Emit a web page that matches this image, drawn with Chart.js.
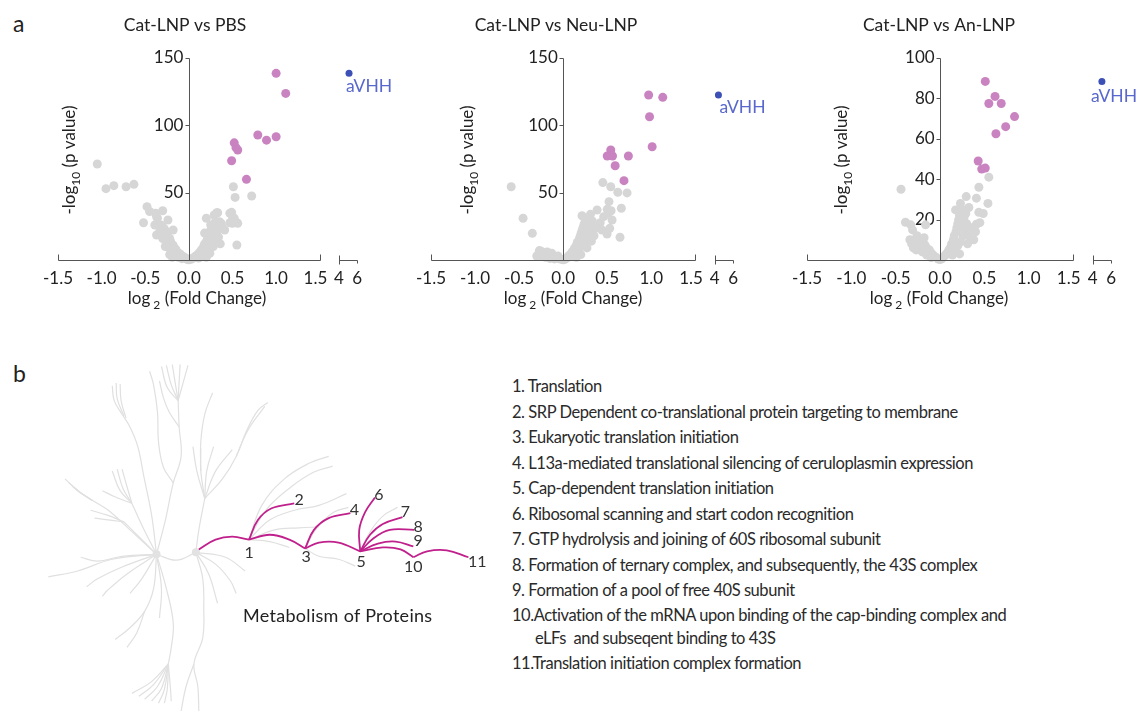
<!DOCTYPE html>
<html lang="en">
<head>
<meta charset="UTF-8">
<title>Volcano plots and Reactome tree</title>
<script src="https://cdn.jsdelivr.net/npm/chart.js@4.4.1/dist/chart.umd.min.js"></script>
<style>
  body { margin: 0; background: #fff; font-family: Lato, sans-serif; color: #222; }
  #fig { position: relative; width: 1138px; height: 715px; overflow: hidden; }
  canvas { position: absolute; top: 0; }
  .panel { position: absolute; font-size: 23px; line-height: 1; }
  #metab { position: absolute; left: 243px; top: 604px; font-size: 18px; letter-spacing: 0.3px; white-space: nowrap; }
  #pathways { position: absolute; left: 512px; top: 374px; font-size: 16.5px; letter-spacing: -0.45px;
    line-height: 25.5px; color: #2a2a2a; white-space: pre-wrap; }
  #pathways .wrap { padding-left: 23px; text-indent: -23px; line-height: 23.5px; }
</style>
</head>
<body>
<div id="fig">
  <div class="panel" style="left:13px;top:12px">a</div>
  <div class="panel" style="left:13px;top:362px">b</div>
  <canvas id="pbs" width="400" height="320" style="left:0px"></canvas>
  <canvas id="neu" width="390" height="320" style="left:380px"></canvas>
  <canvas id="an" width="378" height="320" style="left:760px"></canvas>
  <canvas id="tree" width="500" height="385" style="left:0px;top:330px"></canvas>
  <div id="metab">Metabolism of Proteins</div>
  <div id="pathways"></div>
</div>

<script>
// ---- volcano data: [log2 fold change, -log10 p] ----
const xTickValues = [-1.5, -1, -0.5, 0, 0.5, 1, 1.5, 4, 6];
const xTickLabels = ['-1.5', '-1.0', '-0.5', '0.0', '0.5', '1.0', '1.5  ', '4', '6'];

const pbsBlue = [[5.1, 138.6]];
const pbsPink = [[1.0, 138.6], [1.11, 123.7], [0.79, 92.8], [0.89, 89], [1.0, 91.5],
  [0.52, 87], [0.54, 83.4], [0.56, 81.7], [0.49, 73.7], [0.66, 59.9]];
const pbsGrey = [[-1.05, 71.3], [-0.95, 53], [-0.86, 55.2], [-0.72, 54.4], [-0.63, 56.2],
  [0.51, 54.4], [0.53, 46.5], [0.72, 47.5], [0.55, 11.1],
  [-0.48, 39.6], [-0.45, 36], [-0.3, 36.6], [-0.38, 34.7], [-0.52, 27.7], [-0.37, 32.1], [-0.36, 31],
  [-0.24, 29.7], [-0.39, 26], [-0.18, 22.3], [-0.37, 18.6], [-0.28, 18.6],
  [0.49, 35.4], [0.52, 31], [0.56, 27.2], [0.5, 27.2], [0.33, 35.1], [0.29, 33.4], [0.2, 31], [0.37, 27.2],
  [0.41, 22.3], [0.32, 35.1], [0.35, 28.4], [0.47, 34.7], [0.5, 32.2], [0.55, 27.7], [0.47, 27.7],
  [0.38, 24.7], [0.33, 22.3],
  [-0.02, 0.5], [-0.04, 1.5], [-0.06, 2.5], [-0.08, 3], [-0.1, 4.5], [-0.12, 5], [-0.14, 6.5], [-0.15, 8],
  [-0.17, 9], [-0.18, 11], [-0.2, 12], [-0.21, 14], [-0.22, 16], [-0.24, 17], [-0.25, 19], [-0.26, 21],
  [-0.28, 23], [-0.3, 24.5], [-0.32, 26], [-0.33, 22], [-0.29, 20], [-0.27, 15], [-0.25, 12], [-0.23, 9],
  [-0.2, 7], [-0.18, 5], [-0.15, 3], [-0.12, 2], [-0.08, 1], [-0.3, 16], [-0.32, 19], [-0.27, 10],
  [-0.22, 4], [-0.19, 2], [0, 0.2], [0.01, 0.8], [-0.01, 0.3],
  [0.02, 0.5], [0.04, 1], [0.06, 2], [0.08, 3], [0.1, 4], [0.12, 5.5], [0.14, 7], [0.15, 8], [0.17, 10],
  [0.18, 12], [0.2, 13], [0.21, 15], [0.22, 17], [0.23, 19], [0.24, 21], [0.26, 23], [0.27, 25], [0.28, 20],
  [0.3, 18], [0.26, 15], [0.25, 11], [0.22, 8], [0.2, 6], [0.17, 4], [0.14, 2.5], [0.11, 1.5], [0.3, 14],
  [0.32, 22], [0.34, 17], [0.28, 10], [0.24, 5], [0.2, 2], [0.36, 12], [0.18, 20], [0.3, 28], [0.25, 26]];

const neuBlue = [[4.4, 122.5]];
const neuPink = [[0.97, 122.5], [1.13, 120.8], [0.98, 106.4], [1.01, 84.1], [0.54, 81.7],
  [0.5, 77.2], [0.56, 77.2], [0.74, 77.2], [0.59, 70], [0.69, 58.9]];
const neuGrey = [[-0.59, 54.4], [-0.455, 31], [-0.35, 19.8], [0.45, 57.5], [0.54, 54.4], [0.62, 50.3],
  [0.725, 49.8], [0.52, 43.3], [0.66, 38.4], [0.5, 37.6], [0.544, 36.6], [0.385, 37.1], [0.31, 33.9],
  [0.214, 32.9], [0.46, 32.2], [0.555, 29.7], [0.42, 27.7], [0.365, 23.5], [0.44, 22.3], [0.528, 23.5],
  [0.498, 19.3], [0.645, 16.9], [0.51, 34.7],
  [-0.02, 0.5], [-0.05, 1], [-0.08, 1.5], [-0.1, 2], [-0.12, 2.5], [-0.15, 3], [-0.17, 4], [-0.2, 4.5],
  [-0.22, 5.5], [-0.25, 6.5], [-0.27, 7], [-0.24, 3], [-0.2, 2], [-0.15, 1.2], [-0.1, 0.8], [-0.28, 4.5],
  [-0.3, 3], [-0.18, 6], [-0.13, 5], [-0.06, 3], [0, 0.2],
  [0.02, 0.5], [0.04, 1.5], [0.06, 3], [0.08, 4], [0.1, 6], [0.12, 7.5], [0.13, 9], [0.15, 11], [0.16, 13],
  [0.18, 15], [0.19, 17], [0.2, 19], [0.21, 21], [0.22, 23], [0.23, 25], [0.24, 27], [0.25, 30], [0.22, 14],
  [0.2, 10], [0.17, 7], [0.14, 5], [0.11, 2.5], [0.25, 20], [0.27, 17], [0.28, 24], [0.24, 12], [0.3, 20],
  [0.3, 26], [0.32, 14], [0.27, 9], [0.2, 4], [0.15, 2], [0.35, 18], [0.29, 31], [0.33, 29]];

const anBlue = [[5.0, 88.4]];
const anPink = [[0.51, 88.4], [0.62, 81], [0.55, 77.5], [0.69, 77.5], [0.84, 71], [0.74, 66],
  [0.63, 62.5], [0.43, 49], [0.47, 45], [0.51, 45.5]];
const anGrey = [[-0.44, 35], [-0.39, 18.7], [-0.33, 17.4], [-0.163, 17.4], [-0.31, 14.9], [-0.28, 9.9],
  [-0.22, 6.3], [-0.255, 11.6], [0.438, 36], [0.55, 41], [0.295, 31.4], [0.23, 28], [0.41, 30.6],
  [0.175, 24.8], [0.325, 26], [0.437, 23.6], [0.54, 28], [0.487, 23], [0.449, 18.5], [0.41, 17.7],
  [-0.02, 0.5], [-0.05, 1.5], [-0.08, 2.5], [-0.1, 3.5], [-0.12, 5], [-0.15, 6], [-0.17, 7.5], [-0.2, 8.5],
  [-0.23, 10], [-0.25, 7], [-0.27, 5], [-0.3, 6], [-0.32, 8], [-0.2, 4], [-0.15, 2.5], [-0.1, 1.2],
  [-0.26, 12], [-0.34, 10], [-0.18, 11], [0, 0.2],
  [0.02, 0.6], [0.04, 1.5], [0.06, 2.5], [0.08, 3.5], [0.1, 5], [0.12, 6.5], [0.13, 8], [0.15, 10],
  [0.16, 12], [0.18, 14], [0.19, 16], [0.2, 18], [0.21, 20], [0.22, 22], [0.24, 19], [0.25, 16], [0.27, 21],
  [0.26, 12], [0.23, 9], [0.2, 7], [0.17, 4], [0.14, 2.5], [0.28, 14], [0.3, 18], [0.32, 12], [0.29, 23],
  [0.25, 25], [0.35, 16], [0.31, 8], [0.22, 3], [0.38, 10], [0.4, 14]];

// ---- panel b: pathway tree (page pixel space) ----
const treeGrey = [
  [[155,555],[175,561],[195,553]],
  [[155,555],[164,520],[172,482],[180,455],[178,425],[177,398]],
  [[177,398],[166,385],[160,363]],
  [[177,398],[170,382],[165,362]],
  [[177,398],[174,380],[171,361]],
  [[177,398],[178,378],[179,361]],
  [[177,398],[182,380],[187,362]],
  [[172,482],[162,466],[157,440],[156,410],[152,382],[148,368]],
  [[178,425],[168,410],[162,395],[158,378]],
  [[155,555],[150,515],[142,475],[136,445],[128,425],[120,412]],
  [[120,412],[112,398],[110,383]],
  [[122,414],[115,396],[114,380]],
  [[124,416],[119,398],[118,381]],
  [[155,555],[128,530],[106,510],[90,500]],
  [[90,500],[75,490],[62,478]],
  [[90,500],[78,492],[66,482]],
  [[90,500],[80,494],[70,486]],
  [[155,555],[140,525],[130,503]],
  [[130,503],[118,490],[110,470]],
  [[130,503],[121,488],[115,468]],
  [[130,503],[125,486],[120,468]],
  [[130,503],[112,496],[100,490]],
  [[155,555],[135,535],[122,522]],
  [[122,522],[105,515],[88,510]],
  [[122,522],[108,520],[92,518]],
  [[155,555],[110,560],[75,572],[45,578]],
  [[155,555],[120,557],[95,562],[78,558]],
  [[155,555],[120,568],[95,580],[84,588]],
  [[155,555],[125,575],[105,592],[100,598]],
  [[155,555],[140,580],[128,595]],
  [[155,555],[165,590],[172,625],[170,650],[167,667]],
  [[167,667],[150,685],[130,697]],
  [[167,667],[152,688],[137,700]],
  [[167,667],[156,690],[143,703]],
  [[167,667],[160,692],[150,705]],
  [[167,667],[163,693],[157,707]],
  [[167,667],[166,692],[163,707]],
  [[167,667],[169,690],[170,705]],
  [[155,555],[152,590],[143,613],[128,630],[113,642]],
  [[143,613],[135,635],[125,650]],
  [[155,555],[160,590],[158,620]],
  [[195,553],[202,580],[203,610],[202,640],[193,667],[197,690],[198,715]],
  [[193,667],[185,690],[180,715]],
  [[195,553],[215,565],[230,582],[236,595]],
  [[195,553],[225,558],[245,572]],
  [[195,553],[208,575],[217,605]],
  [[195,553],[198,530],[204,498]],
  [[204,498],[196,470],[192,445]],
  [[204,498],[200,470],[200,447]],
  [[204,498],[206,470],[213,445]],
  [[204,498],[215,470],[232,448]],
  [[204,498],[222,478],[236,455],[246,430],[258,408],[268,400]],
  [[236,455],[248,428],[265,404]],
  [[200,470],[200,440],[204,412],[212,390]],
  [[249,540],[262,505],[285,478],[310,462],[330,455]],
  [[249,540],[266,510],[292,486],[315,471],[334,465]],
  [[249,540],[270,520],[295,510],[320,505],[348,493]],
  [[249,540],[275,530],[300,528],[320,527]],
  [[249,540],[270,542],[290,548]],
  [[306,549],[318,528],[335,512],[350,507]],
  [[306,549],[320,557],[340,560],[357,567]],
  [[362,552],[372,532],[385,516],[400,507]]
];
const treeHighlight = [
  [[198,550],[215,540],[232,537],[249,540]],
  [[249,540],[258,520],[272,508],[295,503]],
  [[249,540],[270,535],[290,540],[306,549]],
  [[306,549],[315,530],[330,518],[352,513]],
  [[306,549],[320,543],[340,543],[362,552]],
  [[362,552],[361,530],[367,512],[377,497]],
  [[362,552],[372,535],[385,524],[405,517]],
  [[362,552],[375,539],[392,530],[417,530]],
  [[362,552],[380,544],[398,542],[416,547]],
  [[362,552],[385,548],[403,550],[416,558]],
  [[416,558],[430,552],[450,551],[472,558]]
];
const treeHubs = [[155,555],[195,553]];
const treeLabels = [['1',249,553],['2',300,499],['3',307,558],['4',356,510],['5',363,563],['6',381,494],
  ['7',408,512],['8',421,527],['9',421,541],['10',416,568],['11',481,563]];

const pathwayNames = [
  'Translation',
  'SRP Dependent co-translational protein targeting to membrane',
  'Eukaryotic translation initiation',
  'L13a-mediated translational silencing of ceruloplasmin expression',
  'Cap-dependent translation initiation',
  'Ribosomal scanning and start codon recognition',
  'GTP hydrolysis and joining of 60S ribosomal subunit',
  'Formation of ternary complex, and subsequently, the 43S complex',
  'Formation of a pool of free 40S subunit',
  'Activation of the mRNA upon binding of the cap-binding complex and\neLFs  and subseqent binding to 43S',
  'Translation initiation complex formation'
];

// ---- helpers ----
const FONT = 'Lato, sans-serif';
const GREY = '#d6d6d6', PINK = '#c983c0', BLUE = '#3c50b6', LABEL_BLUE = '#5868cc';
const BREAK_GAP = 0.22, BREAK_SCALE = 0.105, AXIS_MAX = 1.95;
function toAxis(v) { return v <= 1.5 ? v : 1.5 + BREAK_GAP + (v - 4) * BREAK_SCALE; }
const pts = arr => arr.map(([x, y]) => ({ x: toAxis(x), y: y }));

function drawParts(ctx, parts, cx, cy) {
  // parts: [text, isSub]
  const main = '17px ' + FONT, sub = '12px ' + FONT;
  let total = 0;
  parts.forEach(p => { ctx.font = p[1] ? sub : main; total += ctx.measureText(p[0]).width; });
  let x = cx - total / 2;
  ctx.textAlign = 'left';
  ctx.textBaseline = 'middle';
  parts.forEach(p => {
    ctx.font = p[1] ? sub : main;
    ctx.fillText(p[0], x, p[1] ? cy + 6 : cy);
    x += ctx.measureText(p[0]).width;
  });
}

const volcanoDecor = {
  id: 'volcanoDecor',
  afterDraw(chart, args, o) {
    const ctx = chart.ctx, xs = chart.scales.x, ys = chart.scales.y;
    const r = v => Math.round(v) + 0.5;
    const y0 = r(ys.getPixelForValue(0)), x0 = r(xs.getPixelForValue(0));
    const xa = r(xs.getPixelForValue(-1.5)), xb = r(xs.getPixelForValue(1.5));
    const xc = r(xs.getPixelForValue(toAxis(4))), xd = r(xs.getPixelForValue(toAxis(6)));
    ctx.save();
    ctx.strokeStyle = '#555';
    ctx.lineWidth = 1;
    ctx.beginPath();
    ctx.moveTo(xa, y0 - 6); ctx.lineTo(xa, y0); ctx.lineTo(xb, y0); ctx.lineTo(xb, y0 - 6);
    ctx.moveTo(xc, y0 - 5); ctx.lineTo(xc, y0 + 4);
    ctx.moveTo(xc, y0); ctx.lineTo(xd, y0); ctx.lineTo(xd, y0 + 3);
    ctx.moveTo(x0, y0); ctx.lineTo(x0, r(ys.top));
    ys.ticks.forEach(t => {
      if (t.value) { const p = r(ys.getPixelForValue(t.value)); ctx.moveTo(x0 - 4, p); ctx.lineTo(x0, p); }
    });
    ctx.stroke();

    ctx.fillStyle = '#222';
    ctx.font = '17.5px ' + FONT;
    ctx.textAlign = 'center';
    ctx.textBaseline = 'middle';
    ctx.fillText(o.title, o.titleX, 25);

    drawParts(ctx, [['log', 0], [' 2', 1], [' (Fold Change)', 0]], o.xTitleX, 299);

    ctx.save();
    ctx.translate(o.yTitleX, 160);
    ctx.rotate(-Math.PI / 2);
    drawParts(ctx, [['-log', 0], ['10', 1], [' (p value)', 0]], 0, 0);
    ctx.restore();

    const blue = chart.getDatasetMeta(0).data[0];
    ctx.fillStyle = LABEL_BLUE;
    ctx.font = '17.5px ' + FONT;
    ctx.textAlign = 'left';
    ctx.textBaseline = 'middle';
    ctx.fillText('aVHH', blue.x + o.labelDx, blue.y + o.labelDy);
    ctx.restore();
  }
};

function volcano(id, blue, pink, grey, yMax, yStep, lay) {
  return new Chart(document.getElementById(id), {
    type: 'scatter',
    data: {
      datasets: [
        { data: pts(blue), backgroundColor: BLUE, pointRadius: 3.5, borderWidth: 0, clip: false },
        { data: pts(pink), backgroundColor: PINK, pointRadius: 4.5, borderWidth: 0, clip: false },
        { data: pts(grey), backgroundColor: GREY, pointRadius: 4.5, borderWidth: 0, clip: false }
      ]
    },
    options: {
      responsive: false,
      animation: false,
      events: [],
      layout: { padding: { left: lay.left, top: 58, right: lay.right, bottom: 20 } },
      plugins: {
        legend: { display: false },
        tooltip: { enabled: false },
        volcanoDecor: lay
      },
      scales: {
        x: {
          type: 'linear', min: -1.5, max: AXIS_MAX,
          afterBuildTicks: s => { s.ticks = xTickValues.map(v => ({ value: toAxis(v) })); },
          afterFit: s => { s.height = 40; s.paddingLeft = 0; s.paddingRight = 0; },
          grid: { display: false, drawTicks: false },
          border: { display: false },
          ticks: {
            autoSkip: false, maxRotation: 0, padding: 8, color: '#222',
            font: { family: FONT, size: 17 },
            callback: (v, i) => xTickLabels[i]
          }
        },
        y: {
          type: 'linear', position: { x: 0 }, min: 0, max: yMax,
          grid: { display: false, drawTicks: false },
          border: { display: false },
          ticks: {
            stepSize: yStep, color: '#222',
            font: { family: FONT, size: 17 },
            callback: v => v === 0 ? '' : v + ' \u200a'
          }
        }
      }
    },
    plugins: [volcanoDecor]
  });
}

volcano('pbs', pbsBlue, pbsPink, pbsGrey, 150, 50,
  { left: 58, right: 400 - 58 - 301, title: 'Cat-LNP vs PBS', titleX: 185, xTitleX: 197, yTitleX: 70,
    labelDx: -3, labelDy: 13 });
volcano('neu', neuBlue, neuPink, neuGrey, 150, 50,
  { left: 51, right: 390 - 51 - 304, title: 'Cat-LNP vs Neu-LNP', titleX: 176, xTitleX: 193, yTitleX: 88,
    labelDx: 1, labelDy: 12 });
volcano('an', anBlue, anPink, anGrey, 100, 20,
  { left: 47, right: 378 - 47 - 306, title: 'Cat-LNP vs An-LNP', titleX: 179, xTitleX: 179, yTitleX: 82,
    labelDx: -11, labelDy: 15 });

// ---- tree ----
const treeText = {
  id: 'treeText',
  afterDraw(chart) {
    const ctx = chart.ctx, xs = chart.scales.x, ys = chart.scales.y;
    ctx.save();
    ctx.fillStyle = '#333';
    ctx.font = '16px ' + FONT;
    ctx.textAlign = 'center';
    ctx.textBaseline = 'middle';
    treeLabels.forEach(([t, x, y]) => ctx.fillText(t, xs.getPixelForValue(x), ys.getPixelForValue(y)));
    ctx.restore();
  }
};
const branch = (p, color, w) => ({
  data: p.map(([x, y]) => ({ x, y })), showLine: true, tension: 0.4,
  borderColor: color, borderWidth: w, pointRadius: 0, fill: false
});
new Chart(document.getElementById('tree'), {
  type: 'scatter',
  data: {
    datasets: [
      ...treeHighlight.map(p => branch(p, '#c0208c', 1.8)),
      { data: treeHubs.map(([x, y]) => ({ x, y })), backgroundColor: '#e2e2e2', pointRadius: 4, borderWidth: 0 },
      ...treeGrey.map(p => branch(p, '#e0e0e0', 1.2))
    ]
  },
  options: {
    responsive: false,
    animation: false,
    events: [],
    layout: { padding: 0 },
    plugins: { legend: { display: false }, tooltip: { enabled: false } },
    scales: {
      x: { type: 'linear', min: 0, max: 500, display: false },
      y: { type: 'linear', min: 330, max: 715, reverse: true, display: false }
    }
  },
  plugins: [treeText]
});

// ---- pathway list ----
const list = document.getElementById('pathways');
pathwayNames.forEach((name, i) => {
  const d = document.createElement('div');
  const n = i + 1;
  d.textContent = n < 10 ? n + '. ' + name : n + '.' + name;
  if (n === 10) d.className = 'wrap';
  list.appendChild(d);
});
</script>
</body>
</html>
